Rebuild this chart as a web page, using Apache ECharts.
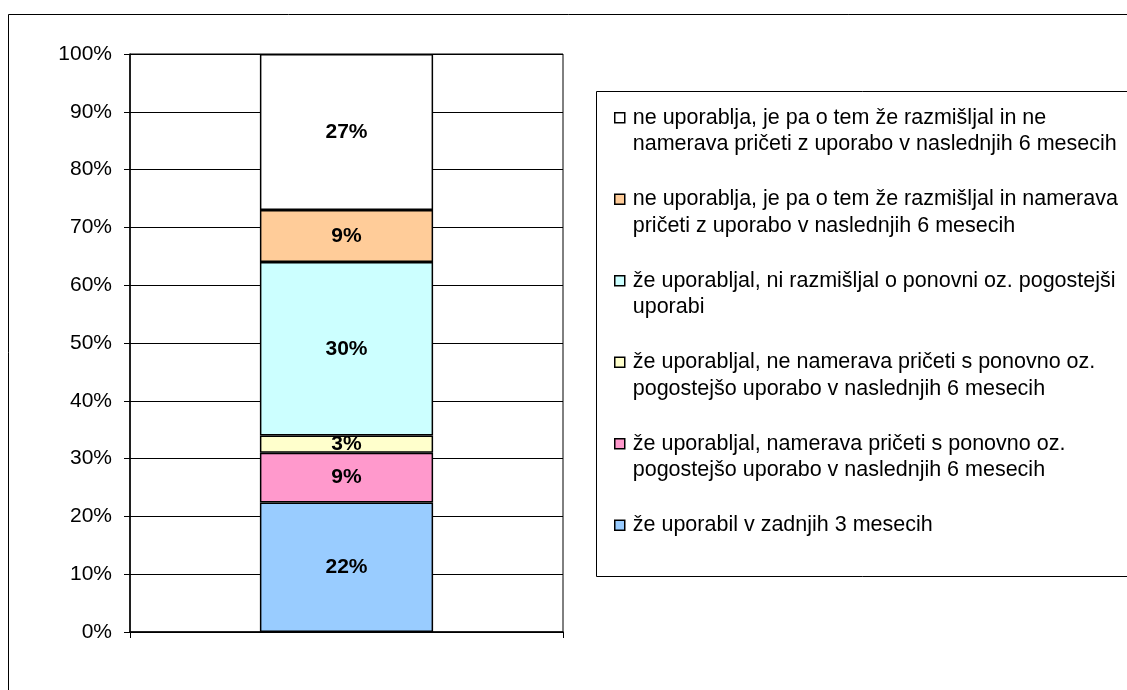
<!DOCTYPE html>
<html>
<head>
<meta charset="utf-8">
<title>Uporaba</title>
<script src="https://cdn.jsdelivr.net/npm/echarts@6/dist/echarts.min.js"></script>
<style>
  html, body { margin: 0; padding: 0; background: #fff; }
  #main { width: 1127px; height: 690px; }
</style>
</head>
<body>
<div id="main"></div>
<script>
var FONT = 'Arial, "Liberation Sans", sans-serif';

// stacked from bottom to top
var seriesNames = [
    'že uporabil v zadnjih 3 mesecih',
    'že uporabljal, namerava pričeti s ponovno oz. pogostejšo uporabo v naslednjih 6 mesecih',
    'že uporabljal, ne namerava pričeti s ponovno oz. pogostejšo uporabo v naslednjih 6 mesecih',
    'že uporabljal, ni razmišljal o ponovni oz. pogostejši uporabi',
    'ne uporablja, je pa o tem že razmišljal in namerava pričeti z uporabo v naslednjih 6 mesecih',
    'ne uporablja, je pa o tem že razmišljal in ne namerava pričeti z uporabo v naslednjih 6 mesecih'
];
var legendLabels = [
    'že uporabil v zadnjih 3 mesecih\n ',
    'že uporabljal, namerava pričeti s ponovno oz.\npogostejšo uporabo v naslednjih 6 mesecih',
    'že uporabljal, ne namerava pričeti s ponovno oz.\npogostejšo uporabo v naslednjih 6 mesecih',
    'že uporabljal, ni razmišljal o ponovni oz. pogostejši\nuporabi',
    'ne uporablja, je pa o tem že razmišljal in namerava\npričeti z uporabo v naslednjih 6 mesecih',
    'ne uporablja, je pa o tem že razmišljal in ne\nnamerava pričeti z uporabo v naslednjih 6 mesecih'
];
var shares = [22.4, 8.6, 3.0, 30.0, 9.0, 27.0];
var colors = ['#99ccff', '#ff99cc', '#ffffcc', '#ccffff', '#ffcc99', '#ffffff'];
var categories = [''];
var yTicks = [0, 10, 20, 30, 40, 50, 60, 70, 80, 90, 100];

var chartDom = document.getElementById('main');
var myChart = echarts.init(chartDom);

// square legend marker sitting on the first text line
var legendIcon = 'path://M0,8.25L10,8.25L10,18.25L0,18.25Z M0,0 M0,53';

var series = seriesNames.map(function (name, i) {
    return {
        name: name,
        type: 'bar',
        stack: 'all',
        barWidth: '40%',
        data: [shares[i]],
        itemStyle: {
            color: colors[i],
            borderColor: '#000',
            borderWidth: 1.5
        },
        label: {
            show: true,
            position: 'inside',
            color: '#000',
            fontFamily: FONT,
            fontWeight: 'bold',
            fontSize: 21,
            formatter: function (p) {
                return Math.round(p.value) + '%';
            }
        }
    };
});

var option = {
    animation: false,
    backgroundColor: '#fff',
    graphic: [
        {
            type: 'rect',
            shape: { x: 8.5, y: 14.5, width: 1200, height: 720 },
            style: { fill: 'none', stroke: '#000', lineWidth: 1 },
            z: -10
        },
        {
            type: 'rect',
            shape: { x: 596.5, y: 91.5, width: 700, height: 485 },
            style: { fill: '#fff', stroke: '#000', lineWidth: 1 },
            z: -5
        }
    ],
    grid: {
        left: 130,
        right: 564,
        top: 54,
        bottom: 58,
        show: true,
        borderColor: '#000',
        borderWidth: 1,
        backgroundColor: '#fff'
    },
    legend: {
        orient: 'vertical',
        left: 614,
        top: 103.75,
        itemWidth: 10,
        itemHeight: 53,
        itemGap: 27,
        icon: legendIcon,
        padding: 0,
        data: seriesNames.slice().reverse(),
        itemStyle: { borderColor: '#000', borderWidth: 1.5 },
        textStyle: {
            fontFamily: FONT,
            fontSize: 21.5,
            lineHeight: 26.5,
            color: '#000',
            padding: [0, 0, 0, 3]
        },
        formatter: function (name) {
            return legendLabels[seriesNames.indexOf(name)];
        },
        selectedMode: false
    },
    xAxis: {
        type: 'category',
        data: categories,
        axisLine: { lineStyle: { color: '#000', width: 1.5 } },
        axisTick: { show: true, length: 6, lineStyle: { color: '#000' } },
        axisLabel: { show: false }
    },
    yAxis: {
        type: 'value',
        min: yTicks[0],
        max: yTicks[yTicks.length - 1],
        interval: 10,
        axisLine: { show: true, lineStyle: { color: '#000', width: 1.5 } },
        axisTick: { show: true, length: 6, lineStyle: { color: '#000' } },
        axisLabel: {
            color: '#000',
            fontFamily: FONT,
            fontSize: 21,
            margin: 18,
            formatter: '{value}%'
        },
        splitLine: { lineStyle: { color: '#000', width: 1 } }
    },
    series: series
};

option && myChart.setOption(option);
</script>
</body>
</html>
